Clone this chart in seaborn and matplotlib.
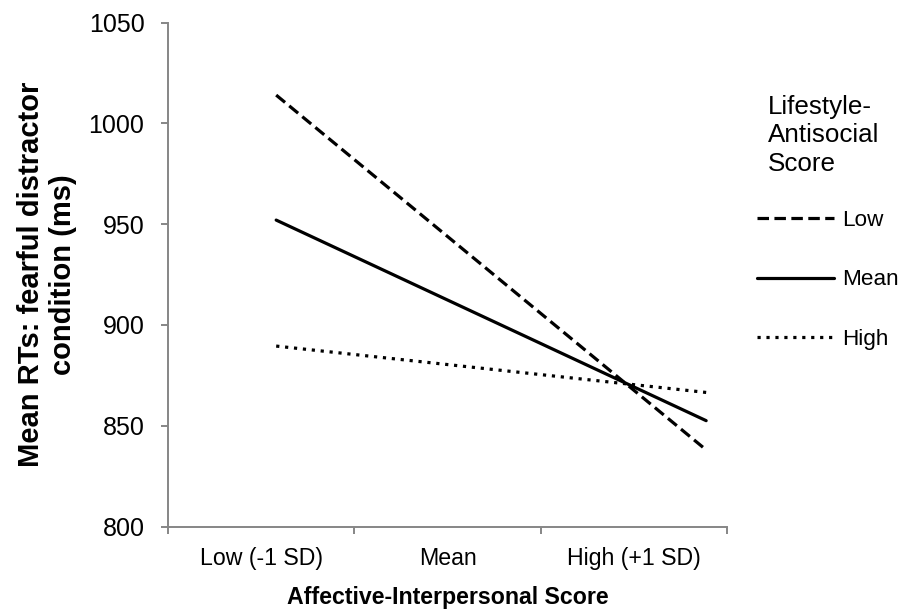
import numpy as np
import pandas as pd
import matplotlib
matplotlib.use("Agg")
import matplotlib.pyplot as plt
import seaborn as sns

# ---- data ----
categories = ["Low (-1 SD)", "Mean", "High (+1 SD)"]
x_sd = [-1, 1]                      # Affective-Interpersonal score (SD units)
groups = ["Low", "Mean", "High"]    # Lifestyle-Antisocial score
low_vals = [1014, 838]
mean_vals = [952, 852.5]
high_vals = [889.5, 866.5]
yticks = [800, 850, 900, 950, 1000, 1050]

df = pd.DataFrame({
    "x": x_sd * 3,
    "rt": low_vals + mean_vals + high_vals,
    "group": [g for g in groups for _ in x_sd],
})

sns.set_theme(style="white")
plt.rcParams["font.family"] = ["Liberation Sans", "DejaVu Sans"]
plt.rcParams["text.color"] = "black"
plt.rcParams["axes.labelcolor"] = "black"

fig = plt.figure(figsize=(9.01, 6.12), dpi=100)
ax = fig.add_axes([0.1865, 0.1397, 0.6204, 0.8235])

sns.lineplot(data=df, x="x", y="rt", style="group", style_order=groups,
             dashes={"Low": (3.6, 1.7), "Mean": "", "High": (1, 1.8)},
             color="black", linewidth=2.3, ax=ax, legend=True)

# axis geometry (category axis with three equal bands)
xlim = (-1.503, 1.097)
ax.set_xlim(*xlim)
edges = np.linspace(xlim[0], xlim[1], 4)
centers = (edges[:-1] + edges[1:]) / 2
ax.set_xticks(centers)
ax.set_xticklabels(categories)
ax.set_xticks(edges, minor=True)
ax.set_ylim(800, 1050)
ax.set_yticks(yticks)
ax.set_yticklabels([str(t) for t in yticks])

spine_col = "#868686"
for s in ["top", "right"]:
    ax.spines[s].set_visible(False)
for s in ["left", "bottom"]:
    ax.spines[s].set_color(spine_col)
    ax.spines[s].set_linewidth(1.4)
ax.tick_params(axis="x", which="major", length=0, pad=15, labelsize=16.7, colors="black")
ax.tick_params(axis="x", which="minor", length=5, width=1.4, color=spine_col, direction="out", bottom=True)
ax.tick_params(axis="y", which="major", length=5, width=1.4, color=spine_col, direction="out",
               left=True, pad=12, labelsize=18, labelcolor="black")

ax.set_xlabel("Affective-Interpersonal Score", fontsize=16.7, fontweight="bold",
              labelpad=11.5, color="black")
ax.set_ylabel("Mean RTs: fearful distractor\ncondition (ms)", fontsize=21,
              fontweight="bold", labelpad=8, linespacing=1.2, color="black")

handles, labels = ax.get_legend_handles_labels()
for h in handles:
    h.set_color("black")
    h.set_linewidth(2.3)
leg = ax.legend(handles, labels, loc="upper left",
                bbox_to_anchor=(757 / 901, 1 - 210 / 612), bbox_transform=fig.transFigure,
                frameon=False, fontsize=16.2, handlelength=3.4, handletextpad=0.4,
                labelspacing=1.71, borderpad=0, borderaxespad=0)

fig.text(768 / 901, 1 - 95 / 612, "Lifestyle-\nAntisocial\nScore", fontsize=18.7,
         ha="left", va="top", linespacing=1.23, color="black")

fig.savefig("out.png", dpi=100)
